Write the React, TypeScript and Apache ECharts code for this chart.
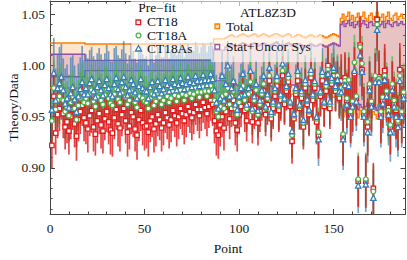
import { useEffect, useRef } from "react";
import * as echarts from "echarts";

// ---------- data (Theory/Data per point) ----------
const ct18 = [
  0.922,0.970,0.934,0.952,0.958,0.967,0.953,0.940,0.945,0.936,0.950,0.957,0.943,0.931,0.947,0.955,0.961,0.949,
  0.944,0.938,0.951,0.956,0.940,0.933,0.946,0.953,0.942,0.936,0.948,0.955,0.945,0.937,0.934,0.949,0.957,0.943,0.939,0.952,0.958,0.946,0.935,0.941,0.954,0.950,0.938,0.932,0.947,0.956,0.944,0.940,
  0.941,0.935,0.946,0.950,0.938,0.943,0.952,0.947,0.939,0.944,0.954,0.949,0.942,0.947,0.956,0.951,0.944,0.950,0.958,0.953,0.946,0.952,0.960,0.955,0.949,0.954,0.962,0.957,0.951,0.957,0.964,0.959,0.953,0.960,0.966,0.962,
  0.946,0.936,0.932,0.942,0.950,0.939,0.955,0.962,0.948,0.958,0.966,0.944,0.937,0.952,0.960,0.970,0.956,0.946,0.962,0.974,
  0.945,0.958,0.968,0.944,0.955,0.965,0.975,0.952,0.962,0.985,0.948,0.958,0.970,0.980,0.956,0.966,0.990,0.962,0.975,0.984,
  0.960,0.926,0.948,0.972,0.985,0.958,0.968,0.940,0.978,0.962,0.952,0.988,0.966,0.978,0.945,0.932,0.970,0.985,0.960,0.975,
  1.000,0.958,0.982,0.990,0.975,0.985,0.968,
  0.985,0.930,0.988,0.966,0.982,0.952,0.962,0.992,0.968,0.887,1.020,0.996,0.952,0.887,0.940,0.978,0.962,0.880,0.986,1.045,
  0.989,0.952,0.966,0.995,0.972,0.959,0.940,0.978,0.962,0.956,0.944,0.996,0.952,0.970,
];
const ct18a = [
  0.946,0.978,0.957,0.966,0.970,0.977,0.966,0.955,0.959,0.951,0.964,0.970,0.958,0.947,0.961,0.968,0.974,0.964,
  0.968,0.963,0.972,0.976,0.965,0.960,0.969,0.974,0.966,0.962,0.971,0.976,0.968,0.963,0.961,0.972,0.977,0.967,0.964,0.973,0.978,0.969,0.962,0.966,0.975,0.972,0.964,0.959,0.970,0.976,0.968,0.965,
  0.964,0.958,0.968,0.972,0.961,0.965,0.973,0.969,0.962,0.966,0.974,0.970,0.964,0.968,0.975,0.971,0.965,0.970,0.976,0.972,0.966,0.971,0.977,0.973,0.968,0.972,0.978,0.974,0.969,0.974,0.979,0.975,0.970,0.975,0.980,0.976,
  0.966,0.955,0.950,0.960,0.970,0.958,0.972,0.978,0.962,0.970,0.975,0.958,0.952,0.964,0.970,0.980,0.966,0.958,0.972,0.984,
  0.955,0.966,0.976,0.952,0.962,0.972,0.982,0.958,0.968,0.990,0.952,0.962,0.975,0.985,0.960,0.970,0.995,0.966,0.978,0.988,
  0.963,0.932,0.951,0.975,0.990,0.960,0.972,0.944,0.982,0.965,0.955,0.992,0.970,0.982,0.948,0.935,0.973,0.990,0.963,0.980,
  0.996,0.962,0.985,0.995,0.978,0.990,0.972,
  0.978,0.933,0.985,0.968,0.986,0.955,0.965,1.003,0.970,0.889,1.018,1.002,0.955,0.889,0.945,0.982,0.965,0.877,0.990,1.040,
  0.987,0.955,0.969,0.990,0.975,0.956,0.942,0.982,0.966,0.958,0.946,0.990,0.955,0.974,
];
const ct18as = [
  0.957,0.993,0.966,0.978,0.983,0.989,0.976,0.963,0.968,0.959,0.973,0.979,0.967,0.955,0.970,0.977,0.984,0.972,
  0.978,0.972,0.983,0.987,0.975,0.969,0.979,0.985,0.976,0.971,0.981,0.987,0.978,0.972,0.970,0.982,0.988,0.977,0.973,0.984,0.989,0.979,0.971,0.976,0.986,0.982,0.974,0.968,0.980,0.987,0.978,0.975,
  0.975,0.968,0.979,0.984,0.972,0.976,0.985,0.980,0.973,0.977,0.986,0.981,0.975,0.979,0.987,0.982,0.976,0.981,0.988,0.983,0.977,0.982,0.989,0.984,0.979,0.983,0.990,0.985,0.980,0.985,0.991,0.986,0.981,0.986,0.992,0.987,
  0.976,0.964,0.958,0.968,0.990,0.966,0.982,1.000,0.970,0.978,0.985,0.962,0.957,0.970,0.978,0.992,0.972,0.962,0.978,0.995,
  0.958,0.970,0.982,0.956,0.966,0.976,0.990,0.960,0.972,0.998,0.955,0.965,0.978,0.990,0.962,0.972,1.002,0.968,0.980,0.992,
  0.965,0.936,0.953,0.978,0.995,0.962,0.975,0.947,0.986,0.967,0.957,0.996,0.972,0.985,0.950,0.928,0.975,0.994,0.965,0.984,
  0.992,0.965,0.988,0.998,0.980,0.986,0.975,
  0.974,0.928,0.981,0.962,0.980,0.950,0.960,0.995,0.965,0.883,1.010,0.994,0.950,0.884,0.935,0.976,0.960,0.871,0.984,1.035,
  0.984,0.950,0.963,0.986,0.970,0.952,0.935,0.976,0.960,0.950,0.940,0.985,0.950,0.968,
];

// half-length of the error bars
const errCt18 = [
  0.022,0.024,0.021,0.023,0.022,0.020,0.024,0.022,0.021,0.023,0.022,0.020,0.023,0.024,0.021,0.022,0.020,0.023,
  0.021,0.023,0.020,0.022,0.024,0.021,0.022,0.020,0.023,0.022,0.021,0.020,0.022,0.024,0.023,0.021,0.020,0.022,0.023,0.021,0.020,0.022,0.024,0.023,0.021,0.020,0.022,0.024,0.021,0.020,0.022,0.023,
  0.022,0.024,0.021,0.020,0.023,0.022,0.021,0.020,0.023,0.022,0.020,0.021,0.023,0.022,0.020,0.021,0.023,0.022,0.020,0.021,0.023,0.022,0.020,0.021,0.022,0.021,0.020,0.021,0.022,0.021,0.020,0.021,0.022,0.021,0.020,0.021,
  0.022,0.024,0.023,0.021,0.020,0.022,0.019,0.021,0.020,0.018,0.020,0.022,0.021,0.019,0.020,0.018,0.021,0.020,0.019,0.018,
  0.021,0.020,0.019,0.022,0.020,0.019,0.018,0.021,0.020,0.019,0.022,0.020,0.019,0.018,0.021,0.020,0.019,0.020,0.019,0.018,
  0.020,0.022,0.021,0.019,0.018,0.020,0.019,0.022,0.019,0.020,0.021,0.019,0.020,0.019,0.022,0.023,0.020,0.019,0.020,0.019,
  0.018,0.020,0.019,0.018,0.020,0.019,0.020,
  0.026,0.028,0.025,0.027,0.026,0.028,0.027,0.026,0.027,0.025,0.028,0.026,0.027,0.026,0.028,0.026,0.027,0.025,0.026,0.030,
  0.026,0.028,0.027,0.026,0.027,0.028,0.027,0.026,0.027,0.028,0.027,0.026,0.028,0.027,
];
const errCt18a = [
  0.026,0.027,0.025,0.026,0.027,0.025,0.026,0.027,0.025,0.026,0.027,0.025,0.026,0.027,0.025,0.026,0.027,0.025,
  0.025,0.026,0.024,0.025,0.026,0.027,0.025,0.024,0.026,0.025,0.027,0.024,0.025,0.026,0.025,0.024,0.026,0.027,0.025,0.024,0.026,0.025,0.027,0.026,0.024,0.025,0.026,0.027,0.025,0.024,0.026,0.025,
  0.026,0.027,0.025,0.024,0.026,0.025,0.027,0.024,0.025,0.026,0.025,0.024,0.026,0.027,0.025,0.024,0.026,0.025,0.027,0.024,0.025,0.026,0.025,0.024,0.026,0.027,0.025,0.024,0.026,0.025,0.027,0.024,0.025,0.026,0.025,0.024,
  0.024,0.025,0.024,0.023,0.022,0.024,0.021,0.022,0.023,0.021,0.022,0.023,0.022,0.021,0.022,0.021,0.022,0.023,0.021,0.022,
  0.023,0.022,0.021,0.023,0.022,0.021,0.022,0.023,0.022,0.021,0.023,0.022,0.021,0.022,0.023,0.022,0.021,0.022,0.021,0.022,
  0.022,0.023,0.022,0.021,0.022,0.023,0.021,0.023,0.022,0.021,0.022,0.021,0.022,0.021,0.023,0.024,0.022,0.021,0.022,0.021,
  0.022,0.021,0.022,0.021,0.022,0.021,0.022,
  0.027,0.029,0.026,0.028,0.027,0.029,0.028,0.027,0.028,0.026,0.029,0.027,0.028,0.026,0.029,0.027,0.028,0.026,0.027,0.030,
  0.027,0.029,0.028,0.027,0.028,0.029,0.028,0.027,0.028,0.029,0.028,0.027,0.029,0.028,
];
const errCt18as = [
  0.032,0.034,0.031,0.033,0.035,0.032,0.031,0.034,0.033,0.032,0.035,0.031,0.033,0.034,0.032,0.031,0.035,0.033,
  0.033,0.035,0.032,0.031,0.034,0.036,0.033,0.032,0.035,0.034,0.031,0.033,0.036,0.032,0.034,0.035,0.031,0.033,0.034,0.032,0.035,0.033,0.031,0.034,0.036,0.032,0.033,0.035,0.034,0.031,0.033,0.032,
  0.034,0.032,0.033,0.035,0.031,0.034,0.033,0.032,0.035,0.031,0.033,0.034,0.032,0.035,0.033,0.031,0.034,0.032,0.033,0.035,0.031,0.034,0.032,0.033,0.035,0.031,0.033,0.034,0.032,0.033,0.031,0.034,0.032,0.033,0.031,0.032,
  0.028,0.027,0.026,0.025,0.024,0.026,0.023,0.024,0.025,0.023,0.024,0.025,0.024,0.023,0.024,0.023,0.024,0.025,0.023,0.024,
  0.025,0.024,0.023,0.025,0.024,0.023,0.024,0.025,0.024,0.023,0.025,0.024,0.023,0.024,0.025,0.024,0.023,0.024,0.023,0.024,
  0.024,0.025,0.024,0.023,0.024,0.025,0.023,0.025,0.024,0.023,0.024,0.023,0.024,0.023,0.025,0.026,0.024,0.023,0.024,0.023,
  0.024,0.023,0.024,0.023,0.024,0.023,0.024,
  0.028,0.030,0.027,0.029,0.028,0.030,0.029,0.028,0.029,0.027,0.030,0.028,0.029,0.027,0.030,0.028,0.029,0.027,0.028,0.031,
  0.028,0.030,0.029,0.028,0.029,0.030,0.029,0.028,0.029,0.030,0.029,0.028,0.030,0.029,
];

// half-widths of the data-uncertainty bands around 1
const totalUnc = [
  0.022,0.022,0.022,0.022,0.022,0.022,0.022,0.022,0.022,0.022,0.022,0.022,0.022,0.022,0.022,0.022,0.022,0.022,
  0.021,0.021,0.021,0.021,0.021,0.021,0.021,0.021,0.021,0.021,0.021,0.021,0.021,0.021,0.021,0.021,0.021,0.021,0.021,0.021,0.021,0.021,0.021,0.021,0.021,0.021,0.021,0.021,0.021,0.021,0.021,0.021,
  0.021,0.021,0.021,0.021,0.021,0.021,0.021,0.021,0.021,0.021,0.021,0.021,0.021,0.021,0.021,0.021,0.021,0.021,0.021,0.021,0.021,0.021,0.021,0.021,0.021,0.021,0.021,0.021,0.021,0.021,0.021,0.021,0.021,0.021,0.021,0.021,
  0.026,0.026,0.026,0.026,0.026,0.026,
  0.027,0.028,0.029,0.030,0.029,0.028,0.028,0.029,0.030,0.031,0.030,0.029,0.028,0.029,0.030,0.031,0.030,0.028,
  0.029,0.030,0.031,0.030,0.029,0.028,0.029,0.030,0.031,0.031,0.030,0.029,0.028,0.029,0.030,0.031,0.030,0.028,
  0.028,0.029,0.030,0.030,0.029,0.028,0.027,0.028,0.029,0.030,0.029,0.028,0.028,0.029,0.030,0.029,0.028,0.027,
  0.028,0.029,0.030,0.031,0.030,0.029,0.028,
  0.046,0.050,0.044,0.048,0.052,0.045,0.049,0.043,0.047,0.051,0.044,0.048,0.052,0.046,0.043,0.049,0.051,0.045,0.048,0.052,
  0.044,0.047,0.050,0.043,0.048,0.052,0.046,0.044,0.049,0.051,0.045,0.048,0.050,0.046,
];
const statUnc = [
  0.011,0.011,0.011,0.011,0.011,0.011,0.011,0.011,0.011,0.011,0.011,0.011,0.011,0.011,0.011,0.011,0.011,0.011,
  0.005,0.005,0.005,0.005,0.005,0.005,0.005,0.005,0.005,0.005,0.005,0.005,0.005,0.005,0.005,0.005,0.005,0.005,0.005,0.005,0.005,0.005,0.005,0.005,0.005,0.005,0.005,0.005,0.005,0.005,0.005,0.005,
  0.005,0.005,0.005,0.005,0.005,0.005,0.005,0.005,0.005,0.005,0.005,0.005,0.005,0.005,0.005,0.005,0.005,0.005,0.005,0.005,0.005,0.005,0.005,0.005,0.005,0.005,0.005,0.005,0.005,0.005,0.005,0.005,0.005,0.005,0.005,0.005,
  0.015,0.015,0.015,0.015,0.015,0.015,
  0.018,0.019,0.020,0.021,0.020,0.019,0.019,0.020,0.021,0.022,0.021,0.020,0.019,0.020,0.021,0.022,0.021,0.019,
  0.020,0.021,0.022,0.021,0.020,0.019,0.020,0.021,0.022,0.023,0.021,0.020,0.019,0.020,0.021,0.022,0.021,0.019,
  0.019,0.020,0.021,0.021,0.020,0.019,0.018,0.019,0.020,0.021,0.020,0.019,0.019,0.020,0.021,0.020,0.019,0.018,
  0.019,0.020,0.021,0.022,0.021,0.020,0.019,
  0.040,0.043,0.038,0.041,0.044,0.039,0.042,0.037,0.040,0.043,0.038,0.041,0.044,0.040,0.037,0.042,0.043,0.039,0.041,0.044,
  0.038,0.040,0.043,0.037,0.041,0.044,0.040,0.038,0.042,0.043,0.039,0.041,0.043,0.040,
];

const xLabelTicks = [0, 50, 100, 150];
const xMinorTicks = [10, 20, 30, 40, 60, 70, 80, 90, 110, 120, 130, 140, 160, 170, 180];
const yLabelTicks = [0.9, 0.95, 1.0, 1.05];
const yMinorTicks = [0.86, 0.87, 0.88, 0.89, 0.91, 0.92, 0.93, 0.94, 0.96, 0.97, 0.98, 0.99, 1.01, 1.02, 1.03, 1.04, 1.06];

// ---------- style ----------
const X_MIN = 0, X_MAX = 188, Y_MIN = 0.855, Y_MAX = 1.063;
const RED = "#e41a1c", GREEN = "#4daf4a", BLUE = "#377eb8", ORANGE = "#ff7f00", PURPLE = "#984ea3";
const FRAME = "#444";
const FONT = '"Liberation Serif", "DejaVu Serif", serif';
const FS = 13.5;
const LFS = 12;

const pointNo = ct18.map((_, i) => i + 1);

function bandSeries(half: number[], stroke: string, fill: string, fillOpacity: number, z: number) {
  return {
    type: "custom",
    z,
    silent: true,
    clip: true,
    data: [[1, 1]],
    encode: { x: 0, y: 1 },
    renderItem: (_p: any, api: any) => {
      const n = half.length;
      const top: number[][] = [];
      const bot: number[][] = [];
      for (let i = 0; i < n; i++) {
        const x0 = i === 0 ? X_MIN : pointNo[i] - 0.5;
        const x1 = i === n - 1 ? X_MAX : pointNo[i] + 0.5;
        top.push(api.coord([x0, 1 + half[i]]), api.coord([x1, 1 + half[i]]));
        bot.push(api.coord([x0, 1 - half[i]]), api.coord([x1, 1 - half[i]]));
      }
      return {
        type: "group",
        children: [
          { type: "polygon", shape: { points: top.concat(bot.slice().reverse()) }, style: { fill, opacity: fillOpacity } },
          { type: "polyline", shape: { points: top }, style: { stroke, lineWidth: 1.4, fill: "none" } },
          { type: "polyline", shape: { points: bot }, style: { stroke, lineWidth: 1.4, fill: "none" } },
        ],
      };
    },
  };
}

function errSeries(vals: number[], errs: number[], color: string, opacity: number, z: number) {
  return {
    type: "custom",
    z,
    silent: true,
    clip: true,
    data: vals.map((v, i) => [pointNo[i], v - errs[i], v + errs[i]]),
    encode: { x: 0, y: [1, 2] },
    renderItem: (_p: any, api: any) => {
      const a = api.coord([api.value(0), api.value(1)]);
      const b = api.coord([api.value(0), api.value(2)]);
      return {
        type: "line",
        shape: { x1: a[0], y1: a[1], x2: b[0], y2: b[1] },
        style: { stroke: color, lineWidth: 1.7, opacity },
      };
    },
  };
}

function markerSeries(vals: number[], symbol: string, size: number, color: string, z: number) {
  return {
    type: "scatter",
    z,
    silent: true,
    data: vals.map((v, i) => [pointNo[i], v]),
    symbol,
    symbolSize: size,
    itemStyle: { color: "#fff", borderColor: color, borderWidth: 1.3, opacity: 1 },
  };
}

function xAx(position: string, ticks: number[], len: number, labels: boolean, line: boolean) {
  return {
    type: "value", min: X_MIN, max: X_MAX, position,
    axisLine: { show: line, onZero: false, lineStyle: { color: FRAME, width: 1 } },
    axisTick: { show: true, inside: true, length: len, customValues: ticks, lineStyle: { color: FRAME, width: 1 } },
    axisLabel: labels
      ? { show: true, customValues: ticks, margin: 7, color: "#222", fontFamily: FONT, fontSize: FS }
      : { show: false },
    splitLine: { show: false },
  };
}
function yAx(position: string, ticks: number[], len: number, labels: boolean, line: boolean) {
  return {
    type: "value", min: Y_MIN, max: Y_MAX, position,
    axisLine: { show: line, onZero: false, lineStyle: { color: FRAME, width: 1 } },
    axisTick: { show: true, inside: true, length: len, customValues: ticks, lineStyle: { color: FRAME, width: 1 } },
    axisLabel: labels
      ? { show: true, customValues: ticks, margin: 5, color: "#222", fontFamily: FONT, fontSize: FS, formatter: (v: number) => v.toFixed(2) }
      : { show: false },
    splitLine: { show: false },
  };
}

const txt = (text: string, x: number, y: number, align = "left", size = FS, extra: any = {}) => ({
  type: "text", x, y, z: 101, silent: true,
  style: { text, align, verticalAlign: "middle", fill: "#111", fontFamily: FONT, fontSize: size },
  ...extra,
});
const WIDE = { scaleX: 1.12 };

export default function App() {
  const ref = useRef<HTMLDivElement>(null);
  useEffect(() => {
    document.body.style.margin = "0";
    const chart = echarts.init(ref.current!, null, { renderer: "svg" });
    const option: any = {
      animation: false,
      backgroundColor: "#fff",
      grid: { left: 50, right: 1.5, top: 1, bottom: 46, containLabel: false },
      xAxis: [
        xAx("bottom", xLabelTicks, 5, true, true),
        xAx("bottom", xMinorTicks, 2.5, false, false),
        xAx("top", xLabelTicks, 5, false, true),
        xAx("top", xMinorTicks, 2.5, false, false),
      ],
      yAxis: [
        yAx("left", yLabelTicks, 5, true, true),
        yAx("left", yMinorTicks, 2.5, false, false),
        yAx("right", yLabelTicks, 5, false, true),
        yAx("right", yMinorTicks, 2.5, false, false),
      ],
      series: [
        bandSeries(totalUnc, ORANGE, ORANGE, 0.2, 1),
        bandSeries(statUnc, PURPLE, PURPLE, 0.22, 1.5),
        errSeries(ct18as, errCt18as, BLUE, 0.7, 2),
        errSeries(ct18a, errCt18a, GREEN, 0.7, 2.1),
        errSeries(ct18, errCt18, RED, 0.82, 2.2),
        markerSeries(ct18, "rect", 4.4, RED, 4),
        markerSeries(ct18a, "circle", 4.6, GREEN, 4.1),
        markerSeries(ct18as, "triangle", 5.4, BLUE, 4.2),
      ],
      graphic: [
        { type: "rect", z: 100, silent: true, shape: { x: 131, y: 1, width: 80, height: 58 }, style: { fill: "#fff", opacity: 0.6 } },
        { type: "rect", z: 100, silent: true, shape: { x: 211, y: 1, width: 111, height: 61 }, style: { fill: "#fff", opacity: 0.6 } },
        txt("Pre\u2212fit", 157, 8, "center", LFS, WIDE),
        { type: "rect", z: 101, silent: true, shape: { x: 136, y: 20, width: 4.6, height: 4.6 }, style: { fill: "#fff", stroke: RED, lineWidth: 1.3 } },
        txt("CT18", 147, 22.3, "left", LFS, WIDE),
        { type: "circle", z: 101, silent: true, shape: { cx: 138.5, cy: 35.5, r: 2.4 }, style: { fill: "#fff", stroke: GREEN, lineWidth: 1.3 } },
        txt("CT18A", 147, 35.8, "left", LFS, WIDE),
        { type: "polygon", z: 101, silent: true, shape: { points: [[138.5, 45.5], [141.5, 51], [135.5, 51]] }, style: { fill: "#fff", stroke: BLUE, lineWidth: 1.3 } },
        txt("CT18As", 147, 49.3, "left", LFS, WIDE),
        txt("ATL8Z3D", 268, 13, "center", LFS, WIDE),
        { type: "rect", z: 101, silent: true, shape: { x: 215, y: 24, width: 4.6, height: 4.6 }, style: { fill: "#ffd3a8", stroke: ORANGE, lineWidth: 1.3 } },
        txt("Total", 226, 27.5, "left", LFS, WIDE),
        { type: "rect", z: 101, silent: true, shape: { x: 215, y: 44.5, width: 4.6, height: 4.6 }, style: { fill: "#fff", stroke: PURPLE, lineWidth: 1.3 } },
        txt("Stat+Uncor Sys", 226, 47, "left", LFS, WIDE),
        txt("Point", 228, 248, "center"),
        txt("Theory/Data", 13, 107.5, "center", FS, { rotation: Math.PI / 2 }),
      ],
    };
    chart.setOption(option);
    return () => chart.dispose();
  }, []);
  return <div ref={ref} style={{ position: "absolute", left: 0, top: 0, width: 407, height: 260 }} />;
}
